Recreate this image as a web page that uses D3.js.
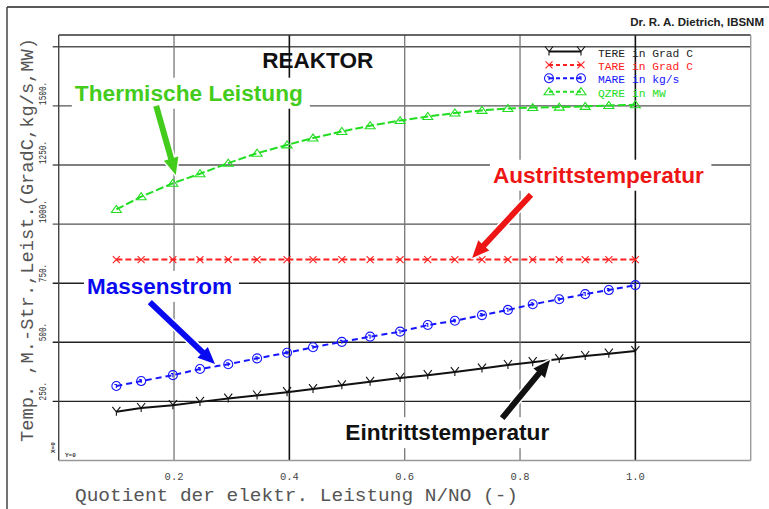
<!DOCTYPE html>
<html><head><meta charset="utf-8">
<script src="https://cdn.jsdelivr.net/npm/d3@7"></script>
<style>html,body{margin:0;padding:0;background:#fff;} svg{display:block;}</style>
</head><body>
<svg id="chart" width="769" height="509"></svg>
<script>
// ---- data ----
const xValues    = [0.10,0.143,0.198,0.245,0.294,0.344,0.396,0.441,0.491,0.540,0.592,0.640,0.687,0.734,0.779,0.822,0.868,0.913,0.954,1.0];
const tereValues = [206,222,234,248,262,275,289,302,318,333,349,361,374,389,404,416,429,442,452,463];
const tareValues = [850,850,850,850,850,850,850,850,850,850,850,850,850,850,850,850,850,850,850,850];
const mareValues = [315,336,361,387,407,432,456,479,502,524,545,573,591,615,637,661,682,704,721,742];
const qzreValues = [1062,1116,1173,1213,1258,1300,1335,1364,1392,1416,1438,1455,1470,1481,1489,1493,1495,1498,1502,1505];
const seriesNames = ["TERE","TARE","MARE","QZRE"];
const seriesUnits = ["in Grad C","in Grad C","in kg/s","in MW"];
const xTicks = [0.2,0.4,0.6,0.8,1.0];
const xTickLabels = ["0.2","0.4","0.6","0.8","1.0"];
const yTicks = [250,500,750,1000,1250,1500];
const yTickLabels = ["250.","500.","750.","1000.","1250.","1500."];
const yGridValues = [250,500,750,1000,1250,1500,1750];
const xDomain = [0,1.2];
const yDomain = [0,1800];
const titleText = "REAKTOR";
const authorText = "Dr. R. A. Dietrich, IBSNM";
const xAxisTitle = "Quotient der elektr. Leistung N/NO (-)";
const yAxisTitle = "Temp. ,M.-Str.,Leist.(GradC,kg/s,MW)";
const annoTexts = ["Thermische Leistung","Austrittstemperatur","Massenstrom","Eintrittstemperatur"];
// annotation anchor (text start, baseline) and arrow tail/tip, in data units
const annoTextPos = [[0.028,1522],[0.753,1175],[0.049,705],[0.497,86]];
const annoArrowTail = [[0.169,1500],[0.819,1124],[0.158,670],[0.769,179]];
const annoArrowTip  = [[0.203,1208],[0.717,857],[0.271,408],[0.852,425]];

// ---- layout ----
const svg = d3.select("#chart");
const L = 58.7, R = 750.7, T = 35, B = 460.5;
const x = d3.scaleLinear().domain(xDomain).range([L,R]);
const y = d3.scaleLinear().domain(yDomain).range([B,T]);
const cad = "'Liberation Mono','DejaVu Sans Mono',monospace";
const sans = "'Liberation Sans',Arial,sans-serif";

// outer frame
svg.append("line").attr("x1",7).attr("y1",7).attr("x2",769).attr("y2",7).attr("stroke","#222").attr("stroke-width",1.5);
svg.append("line").attr("x1",7).attr("y1",7).attr("x2",7).attr("y2",509).attr("stroke","#444").attr("stroke-width",1.5);

// gridlines
const darkY = [250,500,750];
svg.append("g").selectAll("line").data(yGridValues).join("line")
  .attr("x1",L-6).attr("x2",R).attr("y1",d=>y(d)).attr("y2",d=>y(d))
  .attr("stroke",d=>darkY.includes(d)?"#222":"#555").attr("stroke-width",1.4);
const darkX = [0.4,1.0];
svg.append("g").selectAll("line").data(xTicks).join("line")
  .attr("x1",d=>x(d)).attr("x2",d=>x(d)).attr("y1",T).attr("y2",B)
  .attr("stroke",d=>darkX.includes(d)?"#111":"#777").attr("stroke-width",d=>darkX.includes(d)?1.6:1.3);

// plot border
svg.append("line").attr("x1",L).attr("x2",R).attr("y1",T).attr("y2",T).attr("stroke","#333").attr("stroke-width",1.4);
svg.append("line").attr("x1",L).attr("x2",L).attr("y1",T).attr("y2",B).attr("stroke","#444").attr("stroke-width",1.4);
svg.append("line").attr("x1",R).attr("x2",R).attr("y1",T).attr("y2",B).attr("stroke","#999").attr("stroke-width",1.4);
svg.append("line").attr("x1",L).attr("x2",R).attr("y1",B).attr("y2",B).attr("stroke","#999").attr("stroke-width",1.4);

// x axis tick labels
svg.append("g").selectAll("text").data(xTicks).join("text")
  .attr("x",d=>x(d)).attr("y",480).attr("text-anchor","middle")
  .attr("font-family",cad).attr("font-size",10.5).attr("fill","#444")
  .text((d,i)=>xTickLabels[i]);
// y axis tick labels (rotated)
svg.append("g").selectAll("text").data(yTicks).join("text")
  .attr("transform",d=>`translate(46,${y(d)-1}) rotate(-90)`)
  .attr("font-family",cad).attr("font-size",10).attr("fill","#333")
  .attr("textLength",(d,i)=>yTickLabels[i].length*4.6).attr("lengthAdjust","spacingAndGlyphs")
  .text((d,i)=>yTickLabels[i]);

// axis titles
svg.append("text").attr("x",75).attr("y",501)
  .attr("font-family",cad).attr("font-size",18).attr("fill","#555")
  .attr("textLength",443).attr("lengthAdjust","spacingAndGlyphs").text(xAxisTitle);
svg.append("text").attr("transform","translate(33,442) rotate(-90)")
  .attr("font-family",cad).attr("font-size",19).attr("fill","#555")
  .attr("textLength",404).attr("lengthAdjust","spacingAndGlyphs").text(yAxisTitle);

// origin labels
svg.append("text").attr("transform","translate(55,453) rotate(-90)")
  .attr("font-family",cad).attr("font-size",6).attr("font-weight","bold").attr("fill","#333").text("X=0");
svg.append("text").attr("x",65).attr("y",457)
  .attr("font-family",cad).attr("font-size",6).attr("font-weight","bold").attr("fill","#333").text("Y=0");

// header texts
svg.append("text").attr("x",764).attr("y",26).attr("text-anchor","end")
  .attr("font-family",sans).attr("font-weight","bold").attr("font-size",11.5).attr("fill","#222").text(authorText);
svg.append("text").attr("x",x(0.353)).attr("y",y(1662))
  .attr("font-family",sans).attr("font-weight","bold").attr("font-size",22).attr("fill","#111")
  .attr("textLength",111).attr("lengthAdjust","spacingAndGlyphs").text(titleText);

// series
const series = [
  {name:seriesNames[0], unit:seriesUnits[0], values:tereValues, color:"#111", dash:null, marker:"Y"},
  {name:seriesNames[1], unit:seriesUnits[1], values:tareValues, color:"#ff2020", dash:"6,3", marker:"X"},
  {name:seriesNames[2], unit:seriesUnits[2], values:mareValues, color:"#1515ff", dash:"6,4", marker:"O"},
  {name:seriesNames[3], unit:seriesUnits[3], values:qzreValues, color:"#22dd22", dash:"8,3", marker:"T"}
];
const markerPath = {
  Y:"M-4,-5L0,0L4,-5M0,0L0,4",
  X:"M-3.5,-3.5L3.5,3.5M-3.5,3.5L3.5,-3.5",
  O:"M-4.5,0A4.5,4.5 0 1,0 4.5,0A4.5,4.5 0 1,0 -4.5,0M-2,-1.5L0,-1.5L0,2",
  T:"M-5,3L5,3L0,-4Z"
};
const lineGen = d3.line().x(d=>x(d[0])).y(d=>y(d[1]));
series.forEach(s=>{
  const pts = xValues.map((xv,i)=>[xv,s.values[i]]);
  svg.append("path").datum(pts).attr("d",lineGen).attr("fill","none")
    .attr("stroke",s.color).attr("stroke-width",2).attr("stroke-dasharray",s.dash);
  svg.append("g").selectAll("path").data(pts).join("path")
    .attr("transform",d=>`translate(${x(d[0])},${y(d[1])})`)
    .attr("d",markerPath[s.marker]).attr("fill","none")
    .attr("stroke",s.color).attr("stroke-width",1.1);
});

// legend
series.forEach((s,i)=>{
  const ly = 52.5 + i*13.4;
  const g = svg.append("g");
  g.append("line").attr("x1",549).attr("x2",581).attr("y1",ly-1).attr("y2",ly-1)
    .attr("stroke",s.color).attr("stroke-width",2).attr("stroke-dasharray",s.dash?"4,3":null);
  [549,581].forEach(px=>{
    g.append("path").attr("transform",`translate(${px},${ly-1})`).attr("d",markerPath[s.marker])
      .attr("fill","none").attr("stroke",s.color).attr("stroke-width",1.1);
  });
  g.append("text").attr("x",598).attr("y",ly+4).attr("font-family",cad).attr("font-size",11.3)
    .attr("fill",s.color==="#111"?"#222":s.color).attr("xml:space","preserve")
    .text(s.name+" "+s.unit);
});

// annotations
const annoColors = ["#44cc1c","#ee1515","#0a0af0","#111"];
const annoWidths = [228,211,145,204];
function arrowPoints(x1,y1,x2,y2,w,hw,hl){
  const dx=x2-x1, dy=y2-y1, len=Math.hypot(dx,dy), ux=dx/len, uy=dy/len, nx=-uy, ny=ux;
  const nkx=x2-ux*hl, nky=y2-uy*hl;
  return [[x1+nx*w/2,y1+ny*w/2],[nkx+nx*w/2,nky+ny*w/2],[nkx+nx*hw/2,nky+ny*hw/2],[x2,y2],
          [nkx-nx*hw/2,nky-ny*hw/2],[nkx-nx*w/2,nky-ny*w/2],[x1-nx*w/2,y1-ny*w/2]];
}
annoTexts.forEach((t,i)=>{
  const g = svg.append("g");
  const bg = g.append("rect").attr("fill","#fff");
  const tx = g.append("text").attr("x",x(annoTextPos[i][0])).attr("y",y(annoTextPos[i][1]))
    .attr("font-family",sans).attr("font-weight","bold").attr("font-size",22)
    .attr("fill",annoColors[i]).attr("textLength",annoWidths[i]).attr("lengthAdjust","spacingAndGlyphs").text(t);
  const bb = tx.node().getBBox();
  bg.attr("x",bb.x-3).attr("y",bb.y-3).attr("width",bb.width+10).attr("height",bb.height+6);
  const p = arrowPoints(x(annoArrowTail[i][0]),y(annoArrowTail[i][1]),x(annoArrowTip[i][0]),y(annoArrowTip[i][1]),6,15,17);
  const d = "M"+p.map(q=>q.join(",")).join("L")+"Z";
  g.append("path").attr("d",d).attr("fill","none").attr("stroke","#fff").attr("stroke-width",3).attr("stroke-linejoin","round");
  g.append("path").attr("d",d).attr("fill",annoColors[i]);
});
</script>
</body></html>
